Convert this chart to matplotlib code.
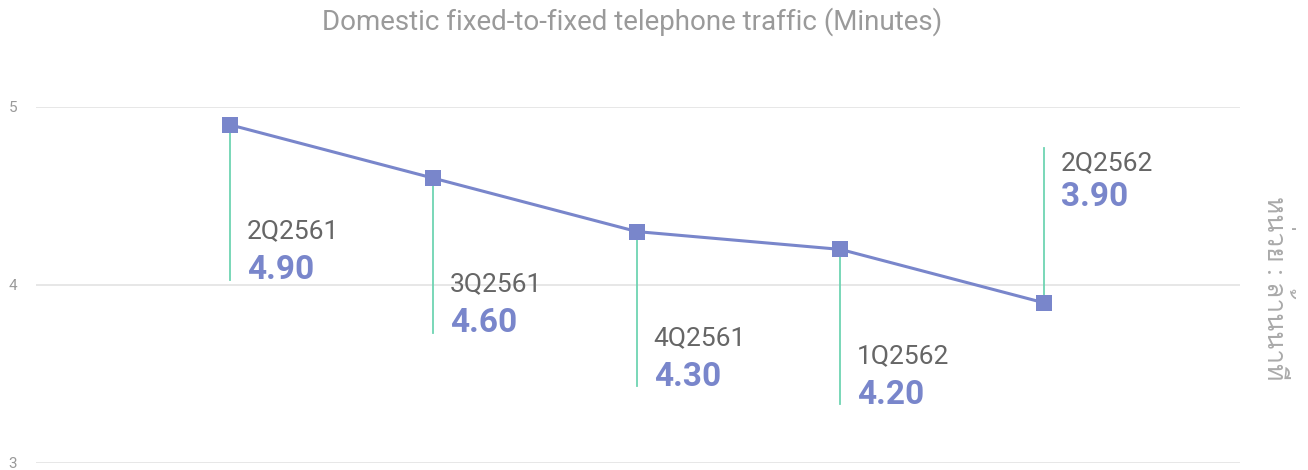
import matplotlib
matplotlib.use("Agg")
import matplotlib.pyplot as plt
from matplotlib import font_manager
from matplotlib.ft2font import FT2Font

quarters = ["2Q2561", "3Q2561", "4Q2561", "1Q2562", "2Q2562"]
minutes = [4.90, 4.60, 4.30, 4.20, 3.90]
# which way each callout line goes: -1 down, +1 up
callout_dir = [-1, -1, -1, -1, 1]
y_ticks = [3, 4, 5]

title = "Domestic fixed-to-fixed telephone traffic (Minutes)"
unit_label = "หน่วย : ล้านนาที"

# look for any installed font that can draw Thai
thai_fams = []
for f in font_manager.fontManager.ttflist:
    try:
        if ord('ท') in FT2Font(f.fname).get_charmap() and f.name not in thai_fams:
            thai_fams.append(f.name)
    except Exception:
        pass

plt.rcParams['font.family'] = ['Roboto', 'Noto Sans', 'DejaVu Sans'] + thai_fams

line_color = '#7986cb'
stem_color = '#6ed4b2'
grid_color = '#e3e3e3'

fig = plt.figure(figsize=(13.08, 4.70), dpi=100)
ax = fig.add_axes([36 / 1308, 7 / 470, (1240 - 36) / 1308, (463 - 107) / 470])

x = list(range(len(minutes)))
ax.set_xlim(-0.953, 4.963)
ax.set_ylim(3, 5)

for yt in y_ticks:
    ax.axhline(yt, color=grid_color, linewidth=1.2, zorder=0)

ax.set_yticks(y_ticks)
ax.set_yticklabels([str(t) for t in y_ticks])
ax.tick_params(axis='y', length=0, pad=13.5, labelsize=11, labelcolor='#9a9a9a')
ax.set_xticks([])
for s in ax.spines.values():
    s.set_visible(False)

stem_len = 0.87
for i, (q, v, d) in enumerate(zip(quarters, minutes, callout_dir)):
    end = v + d * stem_len
    ax.plot([i, i], [v, end], color=stem_color, linewidth=1.3, zorder=1, clip_on=False)
    if d < 0:
        ax.annotate(q, (i, end), xytext=(12, 35), textcoords='offset points',
                    fontsize=19, color='#666666', va='center', ha='left', annotation_clip=False)
        ax.annotate(f"{v:.2f}", (i, end), xytext=(12, 7), textcoords='offset points',
                    fontsize=24, fontweight='bold', color=line_color, va='center', ha='left',
                    annotation_clip=False)
    else:
        ax.annotate(q, (i, end), xytext=(12, -11), textcoords='offset points',
                    fontsize=19, color='#666666', va='center', ha='left', annotation_clip=False)
        ax.annotate(f"{v:.2f}", (i, end), xytext=(12, -35), textcoords='offset points',
                    fontsize=24, fontweight='bold', color=line_color, va='center', ha='left',
                    annotation_clip=False)

ax.plot(x, minutes, color=line_color, linewidth=2.2, marker='s', markersize=12,
        markeredgewidth=0, zorder=3, clip_on=False)

fig.text(632 / 1308, 1 - 22 / 470, title, ha='center', va='center',
         fontsize=20, color='#9a9a9a')
fig.text(1276 / 1308, 1 - 288 / 470, unit_label, rotation=-90, ha='center', va='center',
         fontsize=19, color='#aaaaaa')

fig.savefig("out.png", dpi=100)
